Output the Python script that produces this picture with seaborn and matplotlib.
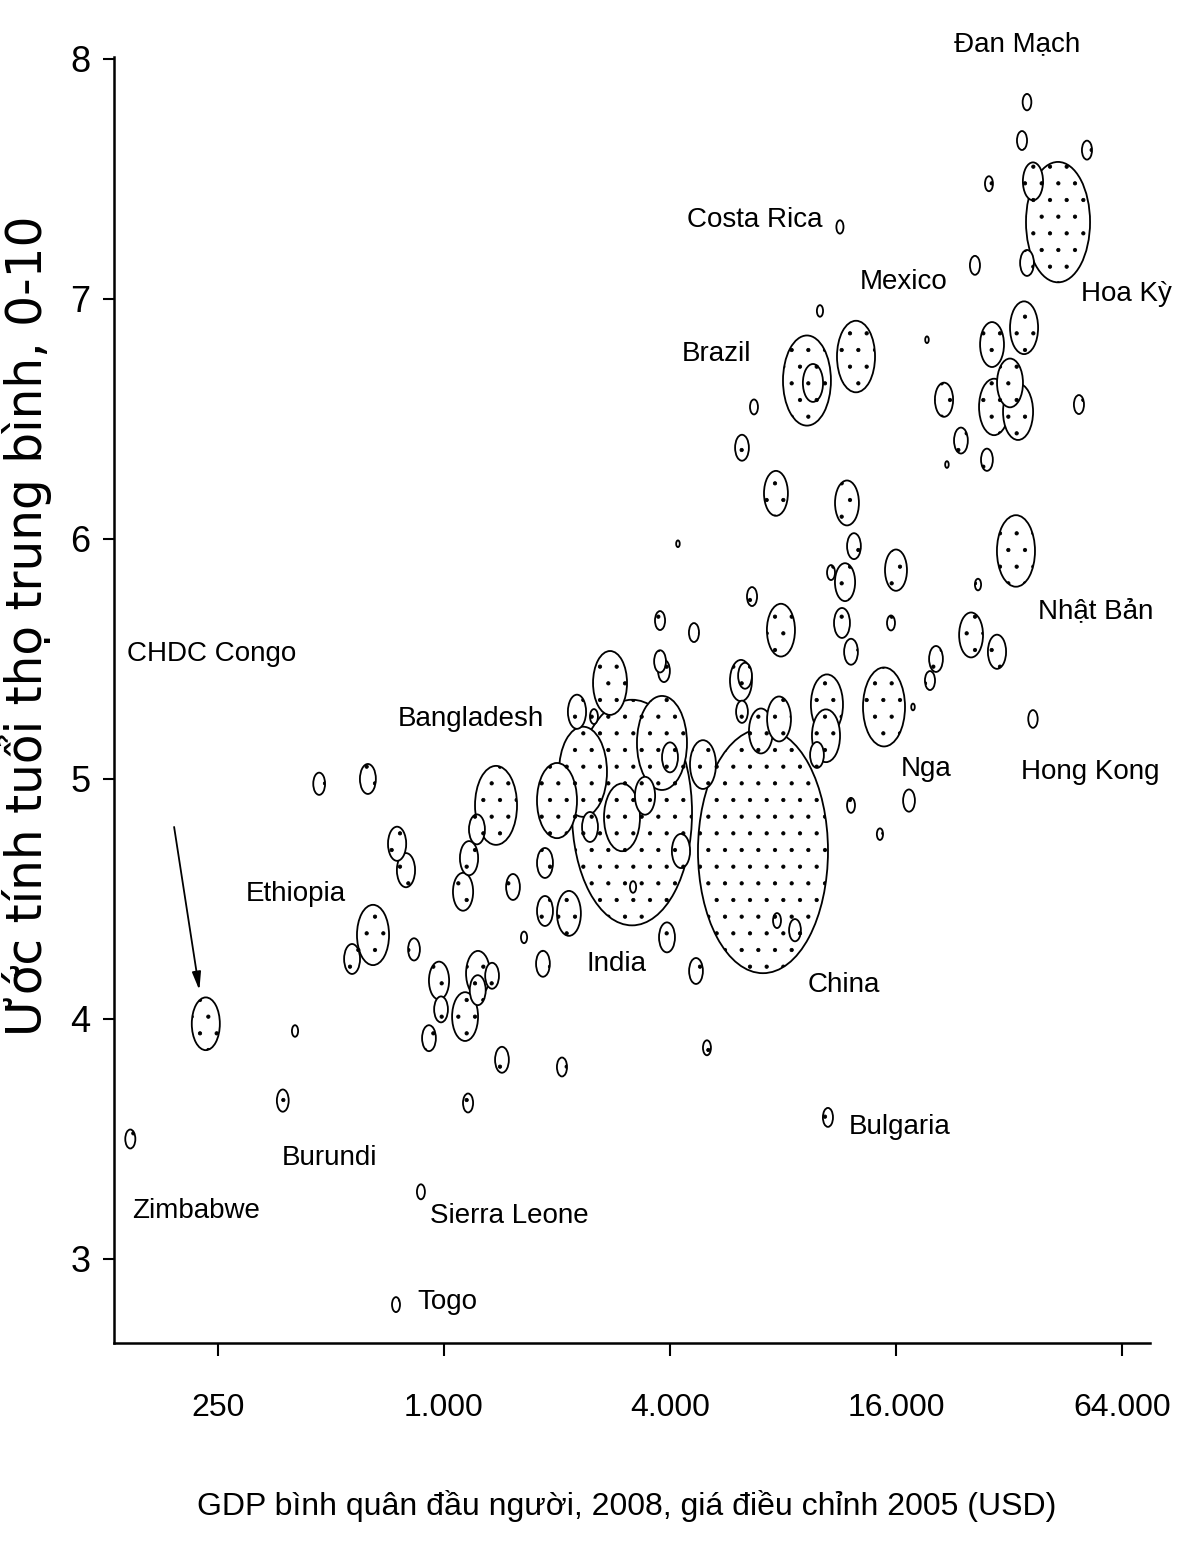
import numpy as np
import pandas as pd
import matplotlib
matplotlib.use("Agg")
import matplotlib.pyplot as plt
from matplotlib.path import Path
from matplotlib.transforms import Affine2D
import seaborn as sns

# ---------------- data ----------------
gdp_per_capita = [
    146, 232, 401, 372, 465, 627, 569, 647, 750, 792,
    832, 868, 745, 1159, 970, 982, 912, 1138, 1232, 1343,
    1230, 1427, 2062, 1835, 1634, 1124, 1166, 1224, 1376, 1527,
    1858, 1858, 2152, 2000, 2346, 2449, 2261, 2509, 2769, 3169,
    2980, 3432, 4279, 3808, 4000, 4897, 3189, 3927, 4692, 5018,
    3763, 3763, 3855, 4634, 7076, 7712, 8611, 6988, 7808, 6221,
    6182, 6338, 6616, 7900, 6221, 6696, 7662, 11845, 12364, 10741,
    11705, 16000, 11488, 12142, 15517, 10476, 10415, 9855, 14866, 20450,
    19710, 17330, 12142, 14500, 4200, 17760, 9267, 9615, 12520, 10037,
    11345, 21480, 23830, 27950, 28840, 35100, 32200, 29200, 33830, 49150,
    19350, 21870, 33400, 26460, 25360, 29730, 37070, 10540, 43230, 37070,
    35740, 25970, 28300, 34660, 35740, 51630,
]
life_satisfaction = [
    3.50, 3.98, 3.95, 3.66, 4.98, 5.00, 4.25, 4.35, 4.73, 4.62,
    4.29, 3.28, 2.81, 3.65, 4.16, 4.04, 3.92, 4.01, 4.19, 4.18,
    4.12, 3.83, 3.80, 4.23, 4.34, 4.53, 4.67, 4.79, 4.89, 4.55,
    4.65, 4.45, 4.44, 4.91, 5.03, 4.80, 5.28, 5.26, 5.40, 4.86,
    4.84, 4.93, 4.70, 5.15, 5.09, 5.06, 4.55, 4.34, 4.20, 3.88,
    5.66, 5.49, 5.45, 5.61, 4.70, 4.41, 4.37, 5.20, 5.25, 5.28,
    5.41, 5.43, 5.76, 5.62, 6.38, 6.55, 6.19, 6.15, 5.97, 5.86,
    5.82, 5.87, 5.65, 5.53, 5.65, 5.31, 5.18, 5.10, 5.30, 5.50,
    5.41, 4.91, 4.89, 4.77, 5.98, 5.30, 6.66, 6.65, 6.76, 6.95,
    7.30, 6.58, 6.41, 6.33, 6.81, 6.88, 6.65, 6.55, 6.53, 6.56,
    6.83, 6.31, 5.95, 5.81, 5.60, 5.53, 5.25, 3.59, 7.32, 7.49,
    7.15, 7.14, 7.48, 7.66, 7.82, 7.62,
]
population_m = [
    8, 62, 3, 11, 11, 20, 20, 81, 26, 26,
    11, 5, 5, 8, 32, 15, 15, 53, 45, 15,
    20, 15, 8, 15, 3, 32, 26, 20, 139, 15,
    20, 20, 45, 126, 181, 20, 26, 5, 91, 1134,
    102, 32, 26, 197, 20, 53, 3, 20, 15, 5,
    8, 11, 11, 8, 1331, 5, 11, 45, 45, 11,
    38, 15, 8, 62, 15, 5, 45, 45, 15, 5,
    32, 38, 20, 15, 5, 81, 62, 15, 139, 15,
    8, 11, 5, 3, 1, 1, 181, 32, 114, 3,
    4, 26, 15, 11, 45, 62, 53, 71, 71, 8,
    1, 1, 114, 3, 45, 26, 7, 8, 323, 32,
    15, 8, 5, 8, 6, 8,
]

label_names = ["Đan Mạch", "Costa Rica", "Mexico", "Hoa Kỳ", "Brazil", "Nhật Bản",
               "CHDC Congo", "Bangladesh", "Nga", "Hong Kong", "Ethiopia", "India",
               "China", "Bulgaria", "Burundi", "Zimbabwe", "Sierra Leone", "Togo"]
label_gdp = [33620, 6738, 16810, 65580, 5337, 54580,
             240, 1181, 19230, 52600, 403, 2890,
             11630, 16390, 494, 218, 1490, 1019]
label_ls = [8.06, 7.33, 7.07, 7.02, 6.77, 5.70,
            5.52, 5.25, 5.04, 5.03, 4.52, 4.23,
            4.14, 3.55, 3.42, 3.20, 3.18, 2.82]

x_ticks = [250, 1000, 4000, 16000, 64000]
x_tick_labels = ["250", "1.000", "4.000", "16.000", "64.000"]
y_ticks = [3, 4, 5, 6, 7, 8]

x_title = "GDP bình quân đầu người, 2008, giá điều chỉnh 2005 (USD)"
y_title = "Ước tính tuổi thọ trung bình, 0-10"

# ---------------- style ----------------
sns.set_theme(style="ticks")
plt.rcParams["font.family"] = ["Liberation Sans", "DejaVu Sans"]
plt.rcParams["hatch.color"] = "#3a3a3a"
plt.rcParams["hatch.linewidth"] = 0.6

df = pd.DataFrame({"gdp": gdp_per_capita, "ls": life_satisfaction,
                   "pop": population_m}).sort_values("pop", ascending=False)

fig = plt.figure(figsize=(11.78, 15.43), dpi=100)
fig.patch.set_facecolor("white")
ax = fig.add_axes([114 / 1178, 200 / 1543, 1036 / 1178, 1286 / 1543])

ell = Affine2D().scale(1 / 1.88, 1.0).transform_path(Path.unit_circle())

sns.scatterplot(data=df, x="gdp", y="ls", size="pop", sizes=(0, 30970),
                size_norm=(0, 1331), marker=ell, color="white",
                edgecolor="black", linewidth=1.3, hatch=".",
                legend=False, ax=ax)

ax.set_xscale("log", base=2)
ax.set_xlim(132.1, 76000)
ax.set_ylim(2.65, 8.008)

ax.set_xticks(x_ticks)
ax.set_xticklabels(x_tick_labels)
ax.xaxis.set_minor_locator(matplotlib.ticker.NullLocator())
ax.set_yticks(y_ticks)
ax.set_yticklabels([str(v) for v in y_ticks])

ax.tick_params(axis="x", length=9, width=1.5, pad=27, labelsize=23, colors="black")
ax.tick_params(axis="y", length=8, width=1.5, pad=9, labelsize=26, colors="black")

for s in ["top", "right"]:
    ax.spines[s].set_visible(False)
for s in ["left", "bottom"]:
    ax.spines[s].set_linewidth(1.8)
    ax.spines[s].set_color("black")

ax.set_xlabel(x_title, fontsize=23, color="black")
ax.xaxis.set_label_coords(0.495, -0.114)
ax.xaxis.label.set_va("top")
ax.set_ylabel(y_title, fontsize=35, color="black", family=["DejaVu Sans"])
ax.yaxis.set_label_coords(-0.060, 0.558)

for name, gx, gy in zip(label_names, label_gdp, label_ls):
    ax.text(gx, gy, name, ha="center", va="center", fontsize=20,
            color="black", clip_on=False)

ax.annotate("", xy=(223, 4.12), xytext=(191, 4.80),
            arrowprops=dict(arrowstyle="-|>,head_length=0.9,head_width=0.22",
                            lw=1.3, color="black", shrinkA=0, shrinkB=0))

fig.savefig("out.png", dpi=100, facecolor="white")
